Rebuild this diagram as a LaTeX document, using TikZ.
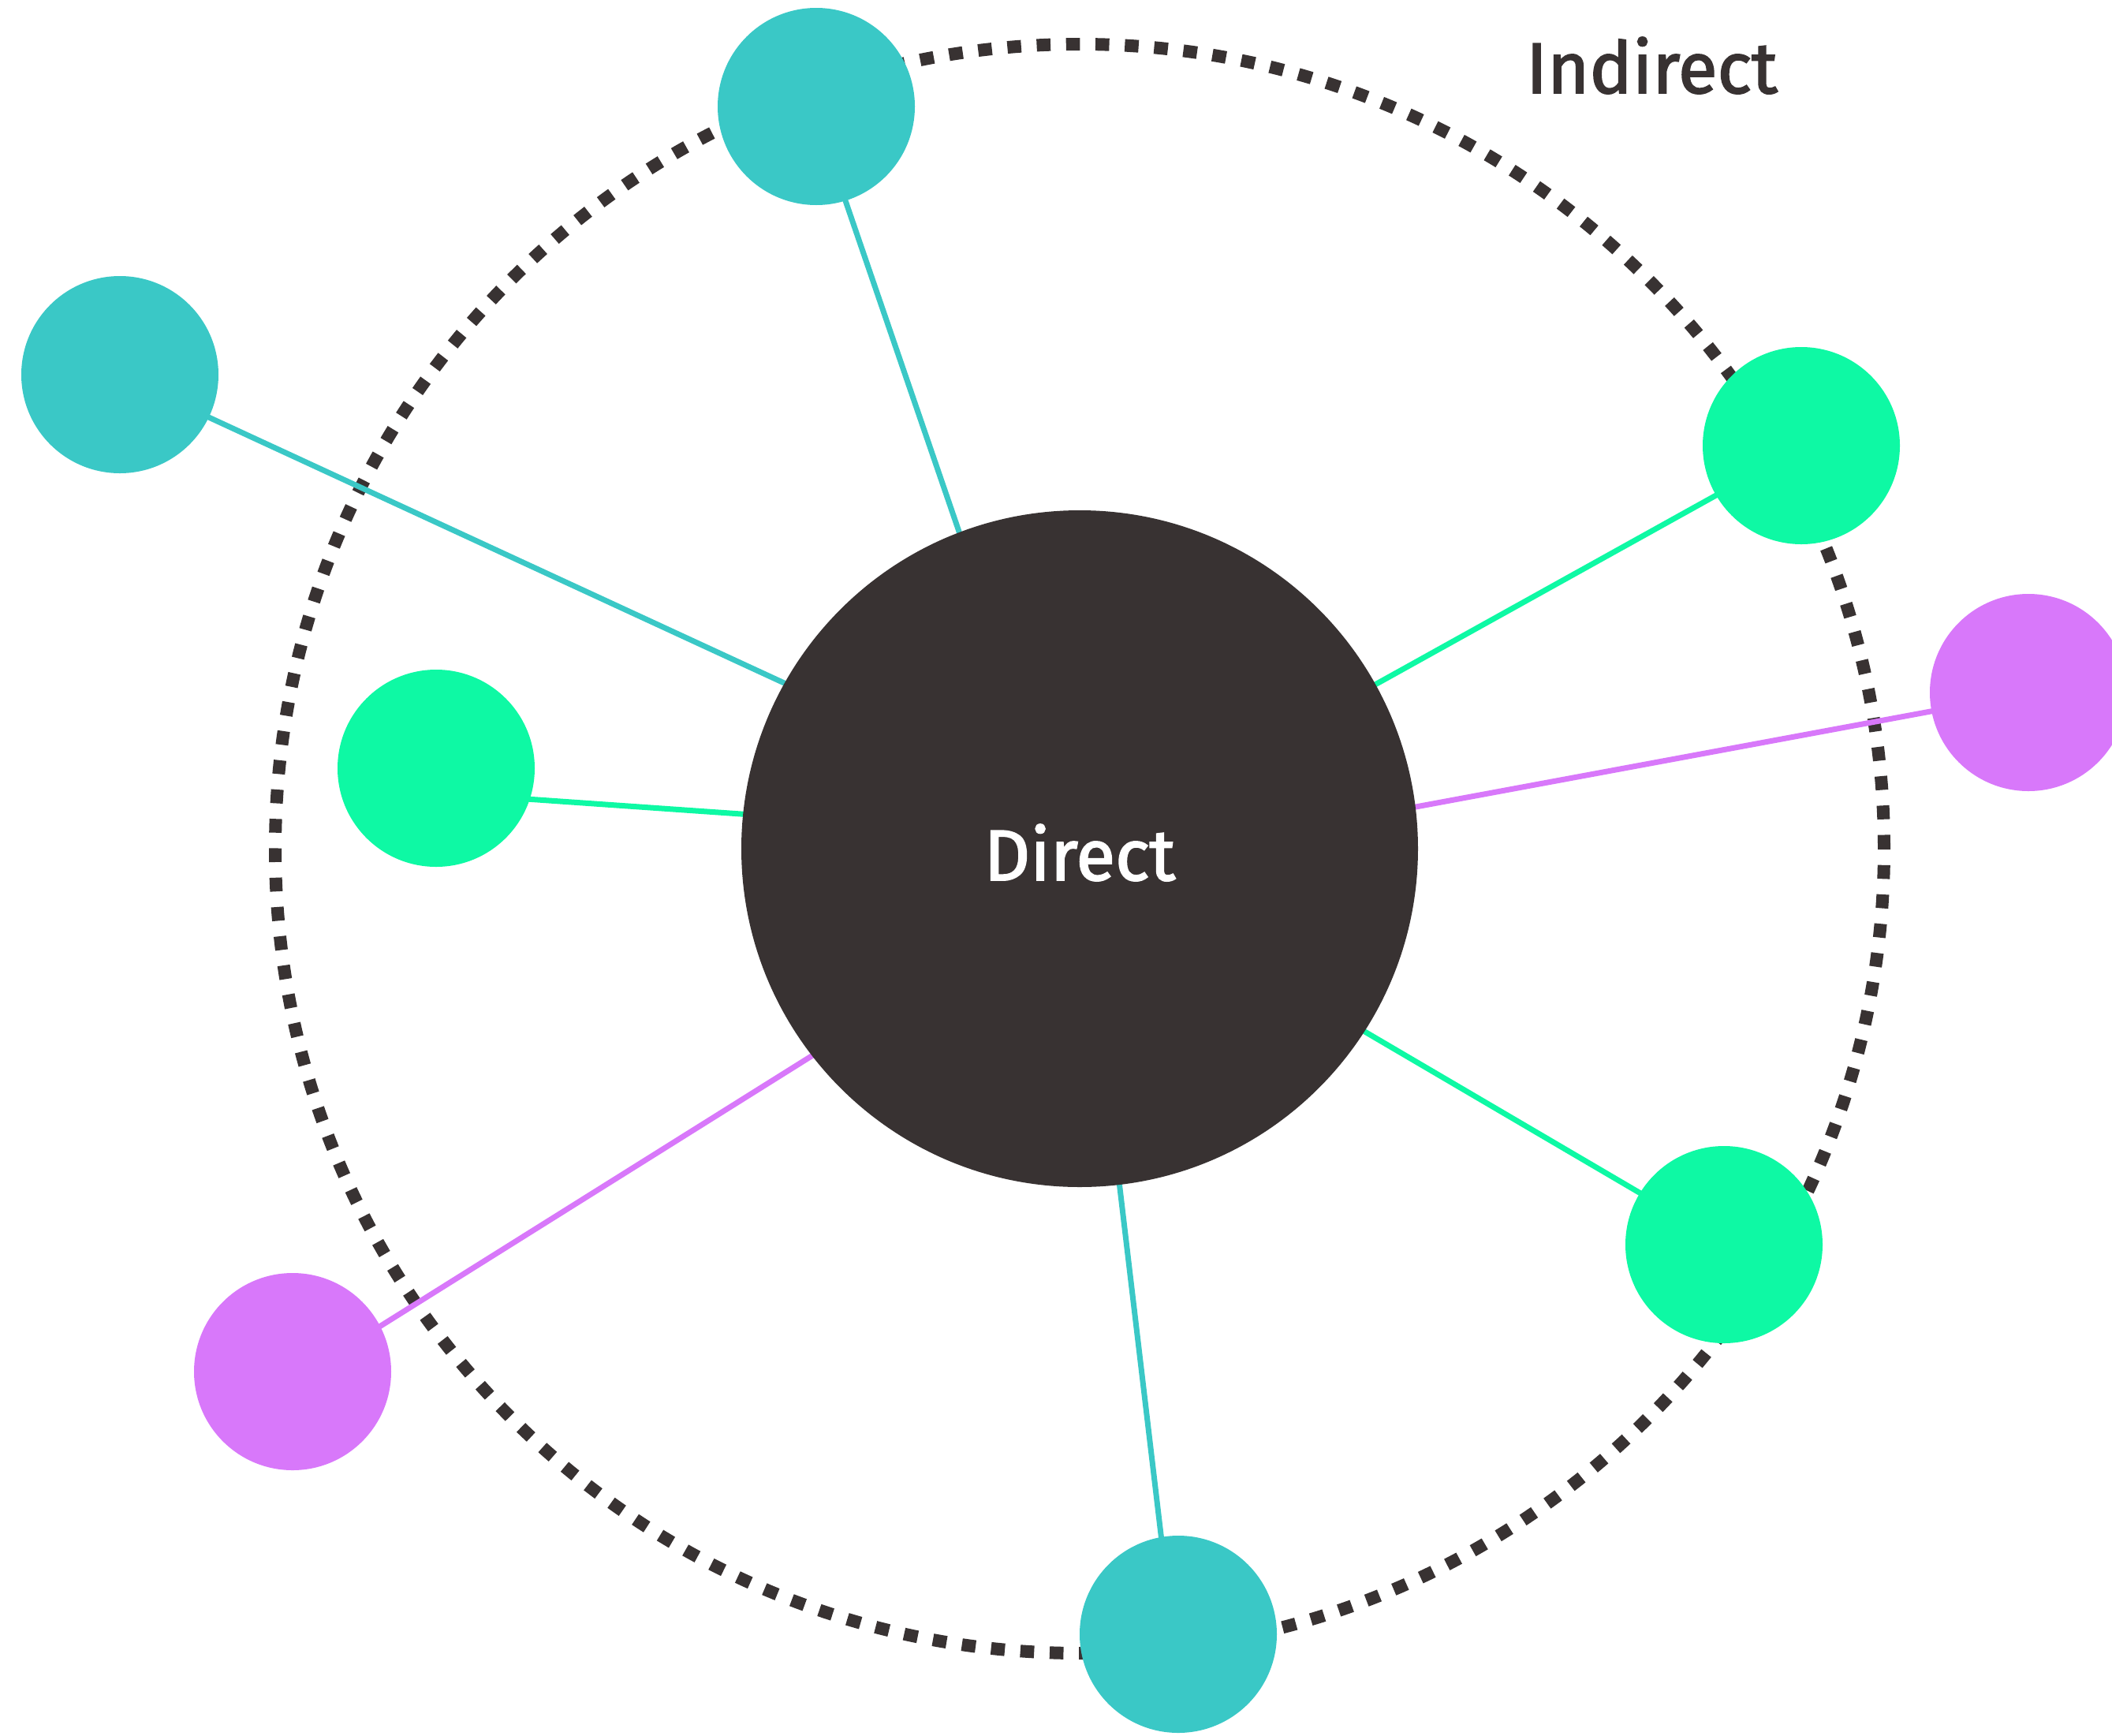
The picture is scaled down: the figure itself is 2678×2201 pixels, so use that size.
\documentclass[tikz,border=0pt]{standalone}
\usepackage{fontspec}
\setmainfont{Fira Sans}
\newfontfamily\lblfont[FakeBold=2]{Fira Sans}
\definecolor{tealc}{RGB}{58,200,198}
\definecolor{greenc}{RGB}{14,249,164}
\definecolor{purplec}{RGB}{216,120,250}
\definecolor{darkc}{RGB}{56,50,50}
\pgfdeclarelayer{bg}
\pgfsetlayers{bg,main}
\begin{document}
\begin{tikzpicture}[x=1pt,y=-1pt,
  disc/.style={circle,inner sep=0pt,minimum size=250pt},
  bigdisc/.style={circle,inner sep=0pt,minimum size=858pt,fill=darkc},
  conn/.style={line width=7pt},
  ring/.style={draw=darkc,line width=16pt,dash pattern=on 17.5pt off 19.76pt},
  lbl/.style={inner sep=0pt,font=\lblfont\fontsize{91}{100}\selectfont}]
\useasboundingbox (0,0) rectangle (2678,2201);
\clip (0,0) rectangle (2678,2201);
\node[bigdisc] (direct) at (1369,1076) {};
\node[disc,fill=tealc] (t1) at (1035,135) {};
\node[disc,fill=tealc] (t2) at (152,475) {};
\node[disc,fill=greenc] (g1) at (553,974) {};
\node[disc,fill=greenc] (g2) at (2284,565) {};
\node[disc,fill=purplec] (p1) at (2572,878) {};
\node[disc,fill=purplec] (p2) at (371,1739) {};
\node[disc,fill=greenc] (g3) at (2186,1578) {};
\node[disc,fill=tealc] (t3) at (1494,2072) {};
\node[lbl,anchor=base,text=white] (directlbl) at (1369,1116) {Direct};
\node[lbl,anchor=base west,text=darkc] (indirect) at (1935,118) {Indirect};
% connector end points (hidden under the discs)
\coordinate (t1a) at (1031,135);  \coordinate (t1b) at (1354,1076);
\coordinate (t2a) at (152,477);   \coordinate (t2b) at (1369,1039);
\coordinate (g1a) at (553,1005);  \coordinate (g1b) at (1369,1062);
\coordinate (g2a) at (2284,568);  \coordinate (g2b) at (1369,1076);
\coordinate (p1a) at (2572,879);  \coordinate (p1b) at (1369,1102);
\coordinate (p2a) at (371,1751);  \coordinate (p2b) at (1369,1126);
\coordinate (g3a) at (2186,1575); \coordinate (g3b) at (1369,1096);
\coordinate (t3a) at (1487,2072); \coordinate (t3b) at (1369,1076);
\begin{pgfonlayer}{bg}
\draw[ring] (direct.center) circle[radius=1020pt];
\draw[conn,tealc] (t1a) -- (t1b);
\draw[conn,tealc] (t2a) -- (t2b);
\draw[conn,greenc] (g1a) -- (g1b);
\draw[conn,greenc] (g2a) -- (g2b);
\draw[conn,purplec] (p1a) -- (p1b);
\draw[conn,purplec] (p2a) -- (p2b);
\draw[conn,greenc] (g3a) -- (g3b);
\draw[conn,tealc] (t3a) -- (t3b);
\end{pgfonlayer}
\end{tikzpicture}
\end{document}
